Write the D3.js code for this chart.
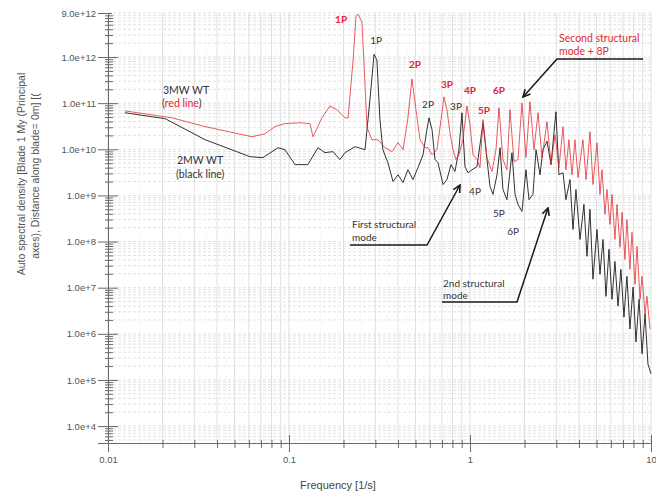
<!DOCTYPE html>
<html>
<head>
<meta charset="utf-8">
<script src="https://cdn.jsdelivr.net/npm/d3@7"></script>
<style>
  body { margin: 0; background: #fff; }
  text { font-family: "Liberation Sans", Arial, sans-serif; }
  .note { font-family: Lato, "Open Sans", sans-serif; }
</style>
</head>
<body>
<svg id="chart" width="656" height="495"></svg>
<script>
// ---- data: [frequency (1/s), auto spectral density] ----
let red3MW = [
  [0.0124,6.8e10],[0.0226,4.8e10],[0.0344,3.1e10],[0.0625,1.87e10],[0.0736,2.17e10],
  [0.0837,3.1e10],[0.095,3.6e10],[0.115,3.76e10],[0.1306,3.6e10],[0.1357,1.87e10],
  [0.152,4.8e10],[0.1685,8.7e10],[0.184,7.2e10],[0.204,4.8e10],[0.212,4.8e10],
  [0.226,8.6e11],[0.2345,7.7e12],[0.2406,8.5e12],[0.253,5.7e12],[0.27,2.93e10],
  [0.2875,1.61e10],[0.31,1.61e10],[0.339,1.08e10],[0.371,8.9e9],[0.40,1.39e10],
  [0.4266,9.8e9],[0.454,4.8e10],[0.478,3.35e11],[0.503,7.2e10],[0.5296,1.61e10],
  [0.564,1.08e10],[0.586,1.08e10],[0.617,7.6e9],[0.657,9.8e9],[0.692,4.4e10],
  [0.718,1.37e11],[0.746,7.2e10],[0.775,2.29e10],[0.805,9.8e9],[0.837,6.0e9],
  [0.869,7.6e9],[0.914,1.61e10],[0.962,8.7e10],[1.0,3.4e10],[1.039,7.6e9],
  [1.093,6.0e9],[1.135,4.0e9],[1.18,4.4e10],[1.241,6.6e9],[1.323,3.3e9],
  [1.392,9.8e9],[1.445,7.9e10],[1.521,6.0e9],[1.60,3.6e9],[1.663,7.2e10],
  [1.75,5.4e9],[1.841,6.0e9],[1.937,1.01e11],[2.038,6.6e9],[2.145,1.07e11],
  [2.257,9.8e9],[2.376,6.2e10],[2.5,6.6e9],[2.664,3.95e10],[2.803,4.65e9],
  [2.949,2.07e10],[3.10,4.0e9],[3.265,3.08e10],[3.39,3.6e9],[3.52,1.61e10],
  [3.66,2.8e9],[3.80,1.61e10],[3.952,2.44e9],[4.21,1.61e10],[4.375,2.2e9],
  [4.60,2.4e10],[4.78,1.72e9],[5.03,1.39e10],[5.225,1.05e9],[5.36,3.6e9],
  [5.57,3.9e8],[5.71,1.34e9],[5.935,2.35e8],[6.09,1.05e9],[6.32,1.11e8],
  [6.49,6.4e8],[6.74,7.5e7],[6.92,4.3e8],[7.18,4.1e7],[7.36,3.0e8],
  [7.65,2.5e7],[7.85,1.58e8],[8.16,1.19e7],[8.37,7.9e7],[8.70,5.6e6],
  [8.92,1.77e7],[9.27,2.7e6],[9.50,6.5e6],[9.87,1.27e6]
]

let black2MW = [
  [0.0124,6.2e10],[0.0207,4.6e10],[0.0344,1.61e10],[0.061,6.9e9],[0.0718,6.6e9],
  [0.0869,1.08e10],[0.095,9.8e9],[0.108,4.65e9],[0.127,4.65e9],[0.1446,1.08e10],
  [0.158,8.45e9],[0.175,8.9e9],[0.191,6.0e9],[0.204,8.45e9],[0.232,1.14e10],
  [0.263,9.8e9],[0.28,1.18e11],[0.295,1.15e12],[0.306,8.6e11],[0.318,4.4e10],
  [0.33,9.8e9],[0.352,5.1e9],[0.3755,2.0e9],[0.40,2.8e9],[0.4266,1.9e9],
  [0.454,3.6e9],[0.484,2.2e9],[0.516,4.0e9],[0.55,7.6e9],[0.578,2.65e10],
  [0.5935,4.8e10],[0.617,2.65e10],[0.641,6.0e9],[0.666,5.1e9],[0.71,1.72e9],
  [0.746,2.2e9],[0.785,4.65e9],[0.826,3.3e9],[0.869,9.8e9],[0.903,6.2e10],
  [0.938,4.2e9],[0.975,3.1e9],[1.026,3.6e9],[1.093,4.2e9],[1.18,3.76e10],
  [1.241,6.0e9],[1.29,1.56e9],[1.34,1.05e9],[1.41,2.8e9],[1.466,1.08e10],
  [1.521,1.34e9],[1.60,8.1e8],[1.706,8.45e9],[1.773,1.05e9],[1.841,6.4e8],
  [1.937,4.5e8],[2.038,3.6e9],[2.118,8.1e8],[2.228,1.05e9],[2.317,9.8e9],
  [2.436,2.8e9],[2.53,9.8e9],[2.664,1.5e10],[2.803,4.65e9],[2.985,6.5e10],
  [3.10,2.8e9],[3.265,3.1e9],[3.39,8.1e8],[3.568,2.2e9],[3.708,1.83e8],
  [3.85,1.34e9],[4.053,1.11e8],[4.26,6.4e8],[4.43,4.8e7],[4.60,5.0e8],
  [4.78,1.53e7],[5.03,1.83e8],[5.225,1.95e7],[5.43,1.11e8],[5.64,6.5e6],
  [5.86,6.8e7],[6.09,5.6e6],[6.32,3.7e7],[6.57,4.0e6],[6.82,2.5e7],
  [7.09,2.3e6],[7.36,1.77e7],[7.65,1.27e6],[7.96,1.03e7],[8.26,6.7e5],
  [8.59,5.6e6],[8.92,3.7e5],[9.27,2.7e6],[9.62,2.2e5],[10,1.36e5]
]

let yTickValues = [9e12,1e12,1e11,1e10,1e9,1e8,1e7,1e6,1e5,1e4]
let xTickValues = [0.01,0.1,1,10]
let xTickLabels = ['0.01','0.1','1','10']

// harmonic labels, placed at [frequency, density]
let peakText  = ['1P','1P','2P','2P','3P','3P','4P','5P','6P','4P','5P','6P']
let peakFreq  = [0.194,0.303,0.497,0.586,0.746,0.837,1.0,1.195,1.445,1.066,1.445,1.73]
let peakPsd   = [5.5e12,1.9e12,5.8e11,7.8e10,2.1e11,7.1e10,1.58e11,5.8e10,1.58e11,1.02e9,3.4e8,1.38e8]
let peakIsRed = [true,false,true,false,true,false,true,true,true,false,false,false]

let RED = '#e3262e'
let BLACK = '#1b1b1b'

let svg = d3.select('#chart')

let x = d3.scaleLog().domain([0.01, 10]).range([108, 651])
let y = d3.scaleLog().domain([4.3e3, 9e12]).range([443, 13])

// ---- grid ----
let gridX = [], gridXfine = [], gridY = []
for (let e = -2; e < 1; e++) {
    for (let k = 1; k <= 9; k++) {
        gridX.push(k * Math.pow(10, e))
        gridXfine.push((k + 0.5) * Math.pow(10, e))
    }
}
gridX.push(10)
for (let e = 3; e <= 12; e++) {
    for (let k = 1; k <= 9; k++) {
        let v = k * Math.pow(10, e)
        if (v >= 4.3e3 && v <= 9e12) gridY.push(v)
    }
}

let grid = svg.append('g')
grid.selectAll('.gxf').data(gridXfine).enter().append('line')
    .attr('x1', d => x(d)).attr('x2', d => x(d))
    .attr('y1', 13).attr('y2', 443)
    .attr('stroke', '#efefef').attr('stroke-dasharray', '1,2')
grid.selectAll('.gy').data(gridY).enter().append('line')
    .attr('x1', 108).attr('x2', 651)
    .attr('y1', d => y(d)).attr('y2', d => y(d))
    .attr('stroke', '#e2e2e2').attr('stroke-dasharray', '3,2')
grid.selectAll('.gx').data(gridX).enter().append('line')
    .attr('x1', d => x(d)).attr('x2', d => x(d))
    .attr('y1', 13).attr('y2', 443)
    .attr('stroke', '#e0e0e0')

// ---- axes ----
let yMinor = gridY.filter(v => yTickValues.indexOf(v) < 0)
let xMinor = gridX.filter(v => xTickValues.indexOf(v) < 0)

let yMinorAxis = svg.append('g').attr('transform', 'translate(108,0)')
    .call(d3.axisLeft(y).tickValues(yMinor).tickSize(3).tickFormat(''))
yMinorAxis.selectAll('.tick line').attr('x1', 5)

let yAxis = svg.append('g').attr('transform', 'translate(108,0)')
    .call(d3.axisLeft(y).tickValues(yTickValues).tickSize(10).tickPadding(2)
        .tickFormat(d3.format('.1e')))
yAxis.selectAll('.tick line').attr('x1', d => d === 9e12 ? 4 : 10)
    .attr('x2', d => d === 9e12 ? -2 : -10)

let xMinorAxis = svg.append('g').attr('transform', 'translate(0,443)')
    .call(d3.axisBottom(x).tickValues(xMinor).tickSize(5).tickFormat(''))
xMinorAxis.selectAll('.tick line').attr('y1', -3)

let xAxis = svg.append('g').attr('transform', 'translate(0,443)')
    .call(d3.axisBottom(x).tickValues(xTickValues).tickSize(9).tickPadding(4)
        .tickFormat((d, i) => xTickLabels[i]))
xAxis.selectAll('.tick line').attr('y1', -8)

svg.selectAll('.domain').attr('stroke', '#6a6a6a')
svg.selectAll('.tick line').attr('stroke', '#6a6a6a')
svg.selectAll('.tick text').attr('fill', '#555').attr('font-size', '9.5px')
    .attr('font-family', '"Liberation Sans", Arial, sans-serif')
yMinorAxis.select('.domain').remove()
xMinorAxis.select('.domain').remove()

// ---- series ----
let line = d3.line().x(d => x(d[0])).y(d => y(d[1]))

svg.append('path').datum(black2MW)
    .attr('d', line).attr('fill', 'none')
    .attr('stroke', BLACK).attr('stroke-width', 0.9)
svg.append('path').datum(red3MW)
    .attr('d', line).attr('fill', 'none')
    .attr('stroke', RED).attr('stroke-width', 0.9).attr('stroke-opacity', 0.85)

// ---- axis titles ----
svg.append('text').attr('fill', '#555').attr('font-size', '10.5px')
    .attr('text-anchor', 'middle')
    .attr('transform', 'translate(25,174) rotate(-90)')
    .text('Auto spectral density [Blade 1 My (Principal')
svg.append('text').attr('fill', '#555').attr('font-size', '10.5px')
    .attr('text-anchor', 'middle')
    .attr('transform', 'translate(39,176) rotate(-90)')
    .text('axes), Distance along blade= 0m] [(')

svg.append('text').attr('x', 338).attr('y', 489)
    .attr('text-anchor', 'middle').attr('fill', '#444').attr('font-size', '11px')
    .text('Frequency [1/s]')

// ---- harmonic labels ----
svg.selectAll('.peak').data(peakText).enter().append('text')
    .attr('class', 'note')
    .attr('x', (d, i) => x(peakFreq[i]))
    .attr('y', (d, i) => y(peakPsd[i]))
    .attr('text-anchor', 'middle')
    .attr('font-size', '10px')
    .attr('font-weight', (d, i) => peakIsRed[i] ? 700 : 400)
    .attr('fill', (d, i) => peakIsRed[i] ? RED : '#333')
    .text(d => d)

// ---- legend notes ----
let note = (tx, ty, size) => svg.append('text').attr('class', 'note')
    .attr('x', tx).attr('y', ty).attr('font-size', size).attr('fill', '#333')

note(163, 94, '10.5px').text('3MW WT')
let rl = note(162, 107, '10.5px')
rl.append('tspan').text('(')
rl.append('tspan').attr('fill', RED).text('red line')
rl.append('tspan').text(')')
note(177, 164, '10.5px').text('2MW WT')
note(176, 178, '10.5px').text('(black line)')

note(559, 42, '10.5px').attr('fill', RED).text('Second structural')
note(559, 55, '10.5px').attr('fill', RED).text('mode + 8P')
note(352, 228, '10px').text('First structural')
note(352, 241, '10px').text('mode')
note(443, 287, '10px').text('2nd structural')
note(443, 299, '10px').text('mode')

// ---- arrows ----
svg.append('defs').append('marker')
    .attr('id', 'arrow').attr('viewBox', '0 0 10 10')
    .attr('refX', 9).attr('refY', 5)
    .attr('markerWidth', 9).attr('markerHeight', 9)
    .attr('markerUnits', 'userSpaceOnUse')
    .attr('orient', 'auto')
    .append('path').attr('d', 'M1,1 L9,5 L1,9')
    .attr('fill', 'none').attr('stroke', '#1a1a1a').attr('stroke-width', 1.8)

let arrows = [
    [[643, 59], [557, 59], [523, 97]],
    [[350, 245], [427, 245], [460, 185]],
    [[442, 302], [517, 302], [548, 208]]
]
svg.selectAll('.arrow').data(arrows).enter().append('path')
    .attr('d', d3.line())
    .attr('fill', 'none').attr('stroke', '#1a1a1a').attr('stroke-width', 1.5)
    .attr('marker-end', 'url(#arrow)')
</script>
</body>
</html>
